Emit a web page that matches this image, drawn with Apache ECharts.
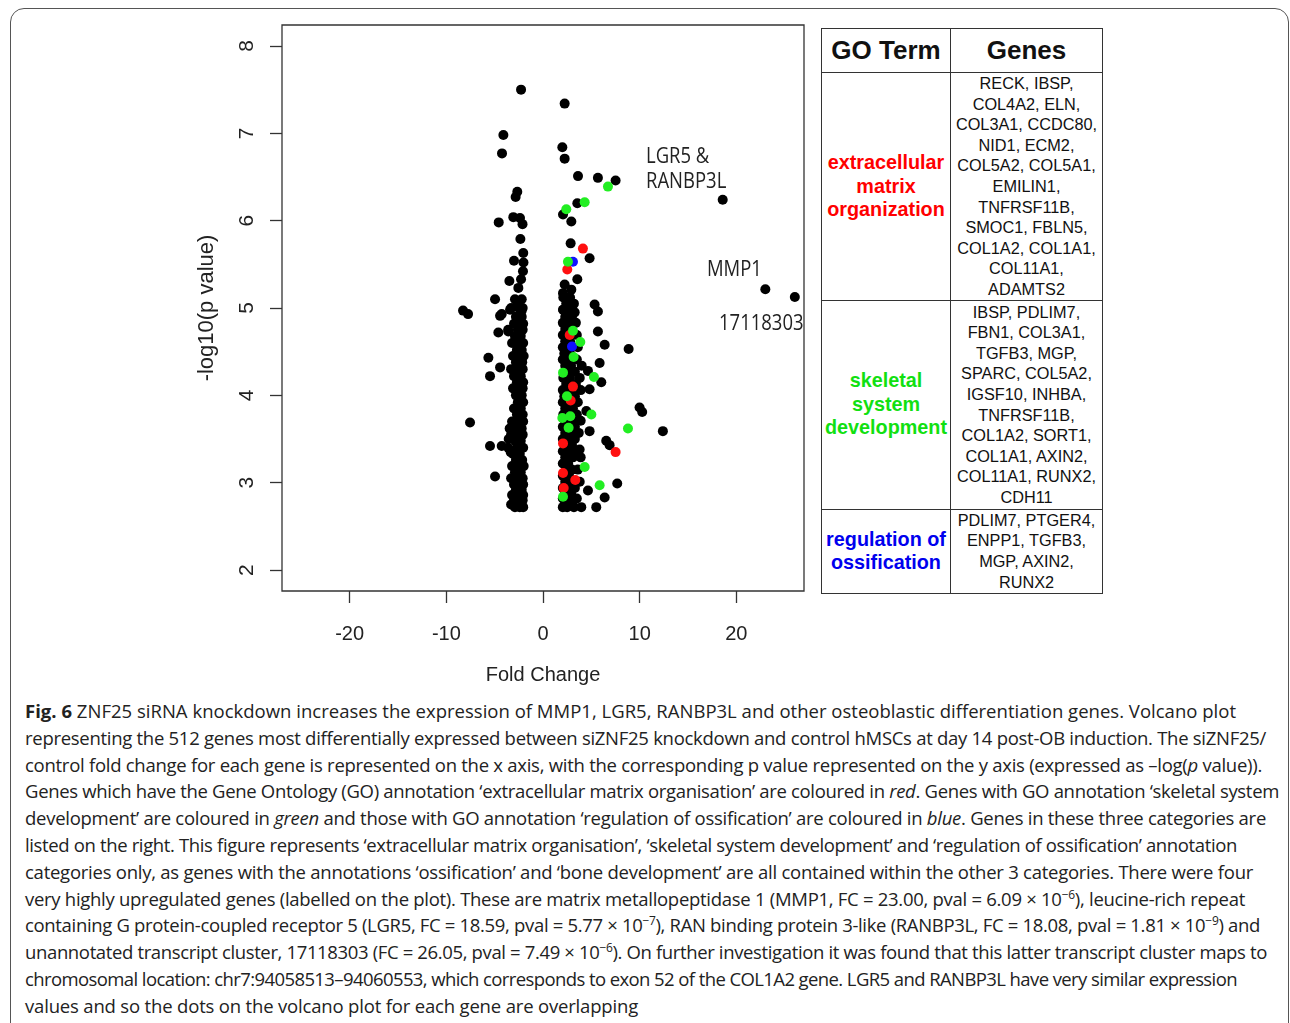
<!DOCTYPE html>
<html>
<head>
<meta charset="utf-8">
<script src="https://cdn.jsdelivr.net/npm/echarts@6/dist/echarts.min.js"></script>
<style>
  body { margin: 0; background: #fff; width: 1290px; height: 1023px; overflow: hidden; position: relative; }
  .frame { position: absolute; left: 10px; top: 8px; width: 1279px; height: 1100px; border: 1.5px solid #555; border-radius: 14px; box-sizing: border-box; }
  #chart { position: absolute; left: 0; top: 0; width: 820px; height: 690px; }
  table.go { position: absolute; left: 821px; top: 28px; border-collapse: collapse; table-layout: fixed; font-family: "Liberation Sans", Arial, sans-serif; color: #111; }
  table.go td { border: 1.5px solid #333; padding: 0; text-align: center; vertical-align: middle; }
  .hd { font-weight: bold; font-size: 26px; }
  .term { font-weight: bold; font-size: 19.8px; line-height: 23.5px; }
  .genes { font-size: 16.3px; line-height: 20.6px; }
  .caption { position: absolute; left: 25px; top: 698px; font-family: "Open Sans", sans-serif; font-size: 18.5px; line-height: 26.8px; color: #222; white-space: nowrap; }
  .caption div span.t { display: inline-block; }
  .caption b { font-weight: 700; }
  .caption sup { font-size: 12px; line-height: 0; vertical-align: 7px; }
</style>
</head>
<body>
<div class="frame"></div>
<div id="chart"></div>

<table class="go">
  <colgroup><col style="width:129px"><col style="width:152px"></colgroup>
  <tr style="height:44px"><td class="hd">GO Term</td><td class="hd">Genes</td></tr>
  <tr style="height:226px">
    <td class="term" style="color:#ff0000">extracellular<br>matrix<br>organization</td>
    <td class="genes">RECK, IBSP,<br>COL4A2, ELN,<br>COL3A1, CCDC80,<br>NID1, ECM2,<br>COL5A2, COL5A1,<br>EMILIN1,<br>TNFRSF11B,<br>SMOC1, FBLN5,<br>COL1A2, COL1A1,<br>COL11A1,<br>ADAMTS2</td>
  </tr>
  <tr style="height:209px">
    <td class="term" style="color:#11e011">skeletal<br>system<br>development</td>
    <td class="genes">IBSP, PDLIM7,<br>FBN1, COL3A1,<br>TGFB3, MGP,<br>SPARC, COL5A2,<br>IGSF10, INHBA,<br>TNFRSF11B,<br>COL1A2, SORT1,<br>COL1A1, AXIN2,<br>COL11A1, RUNX2,<br>CDH11</td>
  </tr>
  <tr style="height:84px">
    <td class="term" style="color:#0000ee">regulation of<br>ossification</td>
    <td class="genes">PDLIM7, PTGER4,<br>ENPP1, TGFB3,<br>MGP, AXIN2,<br>RUNX2</td>
  </tr>
</table>

<!-- data-end: 参考图中每行文字的右端位置 -->
<div class="caption">
<div data-end="1236"><span class="t"><b>Fig. 6</b> ZNF25 siRNA knockdown increases the expression of MMP1, LGR5, RANBP3L and other osteoblastic differentiation genes. Volcano plot</span></div>
<div data-end="1266"><span class="t">representing the 512 genes most differentially expressed between siZNF25 knockdown and control hMSCs at day 14 post-OB induction. The siZNF25/</span></div>
<div data-end="1262"><span class="t">control fold change for each gene is represented on the x axis, with the corresponding p value represented on the y axis (expressed as –log(<i>p</i> value)).</span></div>
<div data-end="1279"><span class="t">Genes which have the Gene Ontology (GO) annotation ‘extracellular matrix organisation’ are coloured in <i>red</i>. Genes with GO annotation ‘skeletal system</span></div>
<div data-end="1266"><span class="t">development’ are coloured in <i>green</i> and those with GO annotation ‘regulation of ossification’ are coloured in <i>blue</i>. Genes in these three categories are</span></div>
<div data-end="1237"><span class="t">listed on the right. This figure represents ‘extracellular matrix organisation’, ‘skeletal system development’ and ‘regulation of ossification’ annotation</span></div>
<div data-end="1253"><span class="t">categories only, as genes with the annotations ‘ossification’ and ‘bone development’ are all contained within the other 3 categories. There were four</span></div>
<div data-end="1245"><span class="t">very highly upregulated genes (labelled on the plot). These are matrix metallopeptidase 1 (MMP1, FC = 23.00, pval = 6.09 × 10<sup>−6</sup>), leucine-rich repeat</span></div>
<div data-end="1260"><span class="t">containing G protein-coupled receptor 5 (LGR5, FC = 18.59, pval = 5.77 × 10<sup>−7</sup>), RAN binding protein 3-like (RANBP3L, FC = 18.08, pval = 1.81 × 10<sup>−9</sup>) and</span></div>
<div data-end="1267"><span class="t">unannotated transcript cluster, 17118303 (FC = 26.05, pval = 7.49 × 10<sup>−6</sup>). On further investigation it was found that this latter transcript cluster maps to</span></div>
<div data-end="1237"><span class="t">chromosomal location: chr7:94058513–94060553, which corresponds to exon 52 of the COL1A2 gene. LGR5 and RANBP3L have very similar expression</span></div>
<div data-end="638"><span class="t">values and so the dots on the volcano plot for each gene are overlapping</span></div>
</div>

<script>
// 坐标轴刻度
var xTicks = [-20, -10, 0, 10, 20];
var yTicks = [2, 3, 4, 5, 6, 7, 8];

// 没有GO注释的基因 [fold change, -log10(p)]
var blackPoints = [
    // 左列上方
    [-2.27, 7.50], [-4.10, 6.98], [-4.24, 6.77], [-2.66, 6.33], [-2.83, 6.27], [-4.58, 5.98],
    [-3.07, 6.04], [-2.38, 6.03], [-2.12, 5.96], [-2.34, 5.79], [-2.04, 5.63], [-2.02, 5.52],
    [-3.00, 5.54], [-2.07, 5.42], [-2.27, 5.33], [-3.48, 5.31], [-2.55, 5.23], [-4.96, 5.10],
    [-2.72, 5.08], [-3.41, 4.98], [-2.20, 4.97], [-8.27, 4.97], [-7.75, 4.93], [-4.27, 4.93],
    // 左侧离群点
    [-4.44, 4.91], [-4.62, 4.72], [-3.59, 4.73], [-5.65, 4.43], [-4.44, 4.32], [-5.48, 4.22],
    [-7.55, 3.69], [-5.48, 3.42], [-4.27, 3.42], [-4.96, 3.07], [-3.45, 3.62], [-3.55, 3.50],
    [-3.35, 3.35],
    // 左列密集部分
    [-2.9, 5.10], [-2.2, 5.10], [-3.3, 5.00], [-2.5, 5.00], [-2.1, 5.00], [-2.8, 4.90], [-2.2, 4.90],
    [-3.0, 4.82], [-2.4, 4.82], [-2.05, 4.82], [-3.6, 4.75], [-2.6, 4.75], [-2.1, 4.75],
    [-2.9, 4.68], [-2.3, 4.68], [-3.2, 4.60], [-2.5, 4.60], [-2.05, 4.60], [-2.7, 4.52], [-2.2, 4.52],
    [-3.1, 4.45], [-2.4, 4.45], [-2.0, 4.45], [-2.8, 4.38], [-2.15, 4.38], [-3.3, 4.30], [-2.6, 4.30],
    [-2.1, 4.30], [-3.0, 4.22], [-2.3, 4.22], [-2.7, 4.15], [-2.05, 4.15], [-3.1, 4.08], [-2.4, 4.08],
    [-2.1, 4.08], [-2.8, 4.00], [-2.2, 4.00], [-2.6, 3.92], [-2.05, 3.92], [-3.0, 3.85], [-2.3, 3.85],
    [-2.7, 3.78], [-2.1, 3.78], [-3.2, 3.70], [-2.5, 3.70], [-2.05, 3.70], [-2.9, 3.62], [-2.2, 3.62],
    [-3.3, 3.55], [-2.6, 3.55], [-2.1, 3.55], [-2.9, 3.48], [-2.3, 3.48], [-3.6, 3.40], [-2.7, 3.40],
    [-2.05, 3.40], [-3.1, 3.33], [-2.4, 3.33], [-2.8, 3.26], [-2.15, 3.26], [-3.2, 3.19], [-2.5, 3.19],
    [-2.0, 3.19], [-2.9, 3.12], [-2.3, 3.12], [-3.3, 3.05], [-2.6, 3.05], [-2.1, 3.05], [-3.0, 2.98],
    [-2.4, 2.98], [-2.05, 2.98], [-2.8, 2.92], [-2.2, 2.92], [-3.2, 2.86], [-2.6, 2.86], [-2.05, 2.86],
    [-3.0, 2.80], [-2.4, 2.80], [-2.1, 2.80], [-3.3, 2.75], [-2.7, 2.75], [-2.2, 2.75], [-2.9, 2.72],
    [-2.4, 2.72], [-2.05, 2.72],
    // 右列上方
    [2.24, 7.34], [2.00, 6.84], [2.24, 6.71], [3.62, 6.51], [5.68, 6.49], [7.51, 6.46], [3.55, 6.20],
    [2.07, 6.07], [2.93, 5.99], [2.86, 5.74], [4.82, 5.57], [3.55, 5.33], [2.24, 5.27], [2.93, 5.21],
    [2.07, 5.17], [2.07, 4.98], [3.28, 4.95],
    // 右侧离群点
    [5.34, 5.04], [5.68, 4.96], [5.68, 4.73], [6.38, 4.58], [5.86, 4.37], [8.86, 4.53], [4.65, 4.28],
    [6.03, 4.15], [4.82, 4.07], [9.99, 3.86], [10.26, 3.81], [4.48, 3.82], [4.82, 3.59], [12.40, 3.59],
    [6.54, 3.48], [6.89, 3.43], [3.79, 3.38], [7.68, 2.99], [6.38, 2.83], [5.51, 2.72], [4.65, 2.91],
    [3.96, 2.72],
    // 右列密集部分
    [2.1, 5.12], [2.8, 5.12], [2.4, 5.05], [3.2, 5.05], [2.1, 4.98], [2.7, 4.98], [2.3, 4.90], [3.0, 4.90],
    [2.05, 4.83], [2.6, 4.83], [3.4, 4.83], [2.3, 4.76], [2.9, 4.76], [2.05, 4.69], [3.5, 4.69],
    [2.3, 4.62], [2.8, 4.62], [2.05, 4.55], [2.5, 4.55], [3.6, 4.55], [2.2, 4.48], [2.8, 4.48],
    [2.05, 4.41], [2.5, 4.41], [3.5, 4.41], [2.3, 4.34], [2.9, 4.34], [4.0, 4.34], [2.5, 4.27], [3.3, 4.27],
    [2.1, 4.20], [2.8, 4.20], [3.8, 4.20], [2.4, 4.13], [3.4, 4.13], [2.05, 4.06], [2.9, 4.06], [3.9, 4.06],
    [2.2, 3.99], [3.3, 3.99], [2.05, 3.92], [2.6, 3.92], [3.6, 3.92], [2.3, 3.85], [3.1, 3.85],
    [2.1, 3.78], [3.5, 3.78], [2.4, 3.71], [3.0, 3.71], [3.9, 3.71], [2.05, 3.64], [3.3, 3.64],
    [2.3, 3.57], [2.8, 3.57], [3.7, 3.57], [2.05, 3.50], [2.6, 3.50], [3.3, 3.50], [2.4, 3.43], [3.0, 3.43],
    [2.05, 3.36], [2.7, 3.36], [3.5, 3.36], [2.3, 3.29], [3.1, 3.29], [3.9, 3.29], [2.05, 3.22], [2.6, 3.22],
    [2.4, 3.15], [3.0, 3.15], [3.6, 3.15], [2.05, 3.08], [2.7, 3.08], [2.3, 3.01], [3.1, 3.01], [3.8, 3.01],
    [2.05, 2.94], [2.6, 2.94], [3.3, 2.94], [2.3, 2.88], [2.9, 2.88], [2.05, 2.82], [2.6, 2.82], [3.5, 2.82],
    [2.3, 2.77], [3.0, 2.77], [2.05, 2.72], [2.5, 2.72], [3.2, 2.72],
    // 四个高度上调基因 (LGR5 与 RANBP3L 重叠)
    [18.59, 6.24], [23.00, 5.215], [26.05, 5.126]
];

// extracellular matrix organization
var redPoints = [
    [4.13, 5.68], [2.51, 5.44], [2.76, 4.69], [3.10, 4.10], [2.86, 3.94],
    [2.07, 3.45], [7.51, 3.35], [2.07, 3.11], [3.34, 3.03], [2.14, 2.94]
];

// regulation of ossification
var bluePoints = [
    [3.10, 5.53], [3.00, 4.56]
];

// skeletal system development
var greenPoints = [
    [6.72, 6.39], [4.31, 6.21], [2.41, 6.13], [2.58, 5.53], [3.10, 4.74], [3.86, 4.61],
    [3.17, 4.44], [2.07, 4.26], [5.27, 4.21], [2.48, 3.99], [5.00, 3.78], [2.00, 3.74],
    [2.82, 3.76], [2.65, 3.63], [8.79, 3.62], [4.31, 3.18], [5.86, 2.97], [2.07, 2.84]
];

// 图注每行按参考图的行宽调整字距
(function () {
    var lines = document.querySelectorAll(".caption > div");
    lines.forEach(function (div) {
        var span = div.querySelector(".t");
        var target = Number(div.getAttribute("data-end")) - 25;
        var natural = span.getBoundingClientRect().width;
        var n = span.textContent.length;
        span.style.letterSpacing = ((target - natural) / n).toFixed(3) + "px";
    });
})();

(function () {
    var myChart = echarts.init(document.querySelector("#chart"));
    var font = '"Liberation Sans", Arial, sans-serif';

    function dots(name, data, color) {
        return {
            name: name,
            type: "scatter",
            data: data,
            symbol: "circle",
            symbolSize: 10,
            itemStyle: { color: color, opacity: 1 },
            emphasis: { disabled: true },
        };
    }

    var option = {
        animation: false,
        // 图表区域 = R 的 box
        grid: {
            left: 282,
            top: 25,
            width: 522,
            height: 567,
            show: true,
            borderColor: "#333",
            borderWidth: 1.3,
            backgroundColor: "transparent",
        },
        xAxis: {
            type: "value",
            position: "bottom",
            min: -27,
            max: 27,
            name: "Fold Change",
            nameLocation: "middle",
            nameGap: 74,
            nameTextStyle: { fontFamily: font, fontSize: 20, color: "#222" },
            axisLine: { show: false, onZero: false },
            axisTick: { show: true, length: 12, customValues: xTicks, lineStyle: { color: "#333", width: 1.3 } },
            axisLabel: { customValues: xTicks, margin: 33, fontFamily: font, fontSize: 20, color: "#222" },
            splitLine: { show: false },
        },
        yAxis: {
            type: "value",
            position: "left",
            min: 1.76,
            max: 8.24,
            name: "-log10(p value)",
            nameLocation: "middle",
            nameGap: 64,
            nameTextStyle: { fontFamily: font, fontSize: 22, color: "#222" },
            axisLine: { show: false, onZero: false },
            axisTick: { show: true, length: 12, customValues: yTicks, lineStyle: { color: "#333", width: 1.3 } },
            axisLabel: { customValues: yTicks, rotate: 90, margin: 24, fontFamily: font, fontSize: 21, color: "#222" },
            splitLine: { show: false },
        },
        // 图上的基因标注
        graphic: [
            {
                type: "text", x: 646, y: 170, scaleX: 0.88,
                style: { text: "LGR5 &\nRANBP3L", font: '21px "Open Sans"', fill: "#222", verticalAlign: "middle", lineHeight: 25 },
            },
            {
                type: "text", x: 707, y: 270, scaleX: 0.88,
                style: { text: "MMP1", font: '21px "Open Sans"', fill: "#222", verticalAlign: "middle" },
            },
            {
                type: "text", x: 719, y: 324, scaleX: 0.88,
                style: { text: "17118303", font: '21px "Open Sans"', fill: "#222", verticalAlign: "middle" },
            },
        ],
        series: [
            dots("other", blackPoints, "#000"),
            dots("extracellular matrix organization", redPoints, "#ff1010"),
            dots("regulation of ossification", bluePoints, "#1010ff"),
            dots("skeletal system development", greenPoints, "#22ee22"),
        ],
    };
    myChart.setOption(option);
})();
</script>
</body>
</html>
